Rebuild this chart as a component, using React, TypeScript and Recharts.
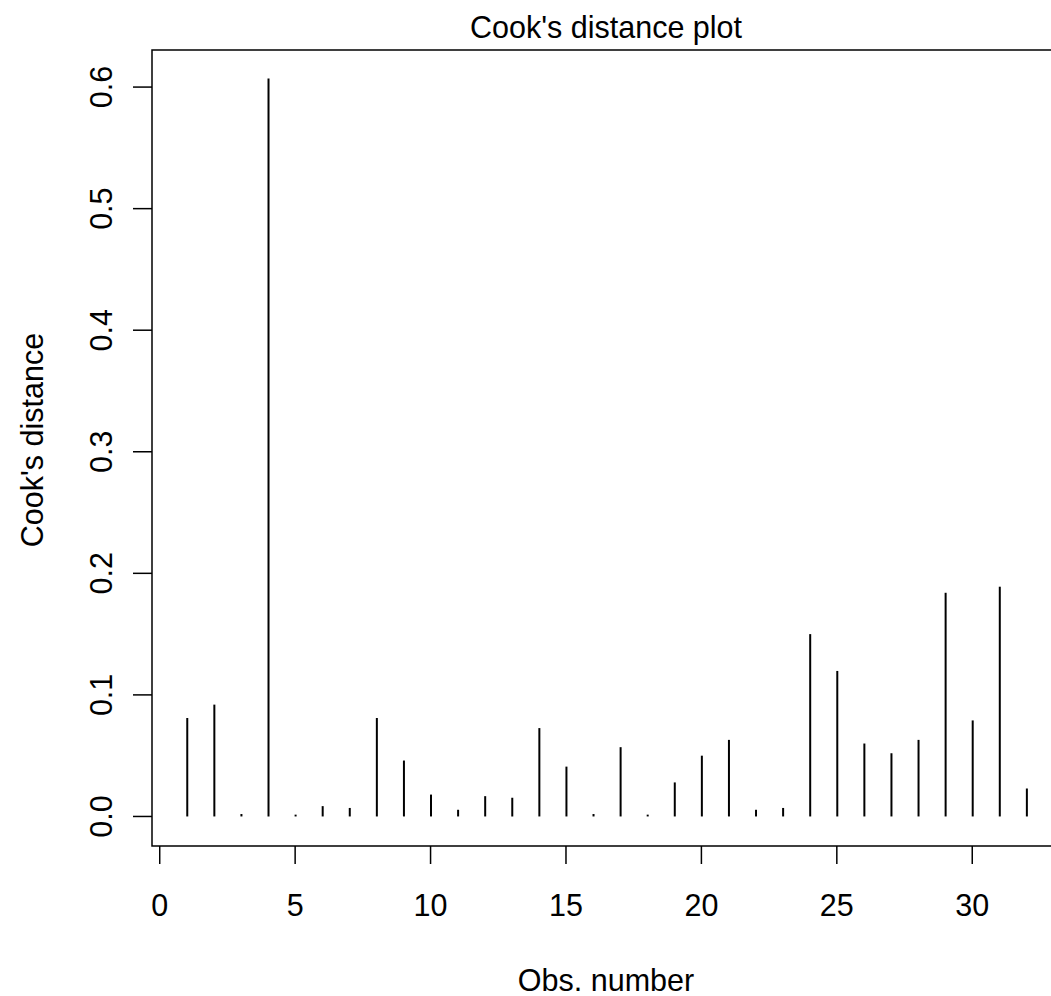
import { ComposedChart, Bar, XAxis, YAxis, ReferenceArea } from 'recharts';

const obsNumbers = [
    1, 2, 3, 4, 5, 6, 7, 8, 9, 10, 11, 12, 13, 14, 15, 16,
    17, 18, 19, 20, 21, 22, 23, 24, 25, 26, 27, 28, 29, 30, 31, 32,
];
const cooksDistance = [
    0.081, 0.092, 0.002, 0.607, 0.0015, 0.0085, 0.007, 0.081, 0.046, 0.018, 0.0055, 0.0167, 0.0154, 0.0727, 0.041, 0.002,
    0.057, 0.0015, 0.028, 0.05, 0.063, 0.0055, 0.007, 0.15, 0.1197, 0.06, 0.052, 0.063, 0.184, 0.079, 0.189, 0.023,
];
const xTicks = [0, 5, 10, 15, 20, 25, 30];
const yTicks = [0, 0.1, 0.2, 0.3, 0.4, 0.5, 0.6];

const X_DOMAIN: [number, number] = [-0.285, 33.24];
const Y_DOMAIN: [number, number] = [-0.0243, 0.6305];

const FONT = '"Liberation Sans", Arial, sans-serif';
const FONT_SIZE = 30.5;

const renderXTick = (props: any) => {
    const { x, y, payload } = props;
    return (
        <text x={x} y={y} textAnchor="middle" fontFamily={FONT} fontSize={FONT_SIZE} fill="#000">
            {payload.value}
        </text>
    );
};

const renderYTick = (props: any) => {
    const { x, y, payload } = props;
    return (
        <text
            x={x}
            y={y}
            textAnchor="middle"
            transform={`rotate(-90, ${x}, ${y})`}
            fontFamily={FONT}
            fontSize={FONT_SIZE}
            fill="#000"
        >
            {Number(payload.value).toFixed(1)}
        </text>
    );
};

export default function App() {
    const data = obsNumbers.map((n, i) => ({ obs: n, d: cooksDistance[i] }));

    return (
        <div style={{ position: 'absolute', left: 0, top: 0, width: 1051, height: 996, overflow: 'hidden', background: '#fff' }}>
            <ComposedChart
                width={1062}
                height={996}
                data={data}
                margin={{ top: 50, right: 2, bottom: 0, left: 0 }}
            >
                <XAxis
                    dataKey="obs"
                    type="number"
                    domain={X_DOMAIN}
                    allowDataOverflow
                    ticks={xTicks}
                    interval={0}
                    axisLine={false}
                    tickLine={{ stroke: '#000', strokeWidth: 1.5 }}
                    tickSize={18}
                    tickMargin={52}
                    height={150}
                    tick={renderXTick}
                />
                <YAxis
                    type="number"
                    domain={Y_DOMAIN}
                    allowDataOverflow
                    ticks={yTicks}
                    interval={0}
                    axisLine={false}
                    tickLine={{ stroke: '#000', strokeWidth: 1.5 }}
                    tickSize={19}
                    tickMargin={21}
                    width={152}
                    tick={renderYTick}
                />
                <ReferenceArea
                    x1={X_DOMAIN[0]}
                    x2={X_DOMAIN[1]}
                    y1={Y_DOMAIN[0]}
                    y2={Y_DOMAIN[1]}
                    fill="none"
                    stroke="#000"
                    strokeWidth={1.5}
                    ifOverflow="visible"
                />
                <Bar dataKey="d" barSize={2} fill="#000" isAnimationActive={false} />
                <text x={606} y={38} textAnchor="middle" fontFamily={FONT} fontSize={FONT_SIZE} fill="#000">
                    Cook's distance plot
                </text>
                <text x={606} y={991} textAnchor="middle" fontFamily={FONT} fontSize={FONT_SIZE} fill="#000">
                    Obs. number
                </text>
                <text
                    x={43}
                    y={440}
                    textAnchor="middle"
                    transform="rotate(-90, 43, 440)"
                    fontFamily={FONT}
                    fontSize={FONT_SIZE}
                    fill="#000"
                >
                    Cook's distance
                </text>
            </ComposedChart>
        </div>
    );
}
